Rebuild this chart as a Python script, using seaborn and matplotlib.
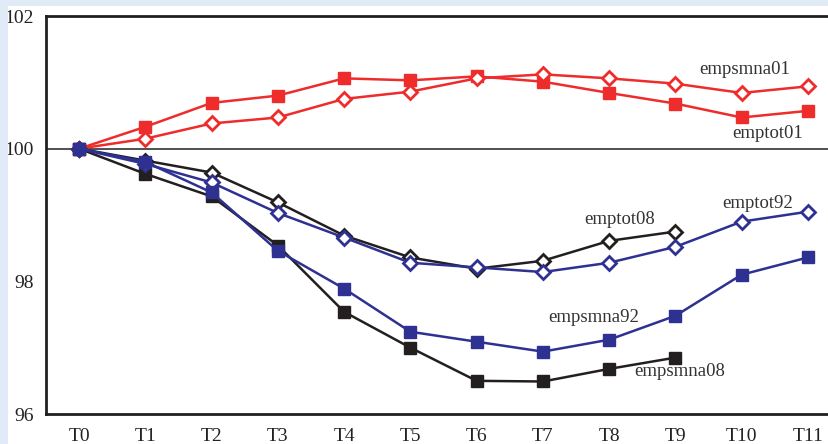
import matplotlib
matplotlib.use("Agg")
import matplotlib.pyplot as plt
import seaborn as sns
import pandas as pd
from matplotlib.patches import Rectangle

periods = ["T0", "T1", "T2", "T3", "T4", "T5", "T6", "T7", "T8", "T9", "T10", "T11"]

emptot01 = [100.0, 100.33, 100.69, 100.80, 101.06, 101.03, 101.09, 101.01, 100.84, 100.68, 100.47, 100.57]
empsmna01 = [100.0, 100.15, 100.38, 100.47, 100.75, 100.86, 101.06, 101.12, 101.06, 100.98, 100.84, 100.94]
emptot08 = [100.0, 99.82, 99.64, 99.19, 98.69, 98.36, 98.19, 98.31, 98.61, 98.75]
empsmna08 = [100.0, 99.62, 99.28, 98.54, 97.54, 97.00, 96.50, 96.49, 96.68, 96.85]
emptot92 = [100.0, 99.77, 99.49, 99.03, 98.66, 98.28, 98.21, 98.14, 98.28, 98.52, 98.90, 99.05]
empsmna92 = [100.0, 99.80, 99.34, 98.46, 97.89, 97.24, 97.09, 96.94, 97.12, 97.48, 98.10, 98.36]

RED = "#ee2c2c"
BLUE = "#2e3192"
BLACK = "#231f20"

series = [
    ("emptot01", emptot01, RED, "s", True),
    ("empsmna01", empsmna01, RED, "D", False),
    ("emptot08", emptot08, BLACK, "D", False),
    ("empsmna08", empsmna08, BLACK, "s", True),
    ("emptot92", emptot92, BLUE, "D", False),
    ("empsmna92", empsmna92, BLUE, "s", True),
]

sns.set_style("white")
plt.rcParams["font.family"] = ["Liberation Serif", "DejaVu Serif"]

fig = plt.figure(figsize=(8.29, 4.44), dpi=100)
fig.patch.set_facecolor("white")
# light blue frame strips (top and left)
fig.patches.append(Rectangle((0, 1 - 6 / 444), 1, 6 / 444, transform=fig.transFigure,
                             facecolor="#e1ebf7", edgecolor="none", zorder=0))
fig.patches.append(Rectangle((0, 0), 8 / 829, 1, transform=fig.transFigure,
                             facecolor="#e1ebf7", edgecolor="none", zorder=0))

ax = fig.add_axes([46 / 829, 30 / 444, (841 - 46) / 829, (414 - 16) / 444])
ax.set_facecolor("white")

ax.axhline(100, color=BLACK, lw=1.1, zorder=1)

for name, vals, color, marker, filled in series:
    df = pd.DataFrame({"x": list(range(len(vals))), "y": vals})
    sns.lineplot(data=df, x="x", y="y", ax=ax, color=color, lw=1.8,
                 marker=marker, markersize=8 if marker == "s" else 7.5,
                 markerfacecolor=color if filled else "white",
                 markeredgecolor=color, markeredgewidth=1.0 if filled else 2.0,
                 zorder=3)

labels = [
    ("empsmna01", 745, 70),
    ("emptot01", 768, 134),
    ("emptot08", 620, 220),
    ("emptot92", 758, 204),
    ("empsmna92", 594, 318),
    ("empsmna08", 680, 372),
]
for txt, px, py in labels:
    # convert pixel position of reference to data coordinates
    xd = -0.5 + (px - 46) / 66.25
    yd = 100 - (py - 149) / 66.3
    ax.text(xd, yd, txt, ha="center", va="center", fontsize=13.5, color="#333333", zorder=4)

ax.set_xlim(-0.5, 11.5)
ax.set_ylim(96, 102)
ax.set_xticks(range(len(periods)))
ax.set_xticklabels(periods, fontsize=14, color="#222222")
ax.set_xticks([i + 0.5 for i in range(len(periods) - 1)], minor=True)
ax.tick_params(axis="x", which="major", length=0, pad=10)
ax.tick_params(axis="x", which="minor", direction="in", length=6, color="#999999", width=1)
ax.set_yticks([96, 98, 100, 102])
ax.set_yticklabels(["96", "98", "100", "102"], fontsize=14, color="#222222")
ax.tick_params(axis="y", length=0, pad=9)
ax.set_xlabel("")
ax.set_ylabel("")

for side in ["left", "bottom", "top"]:
    ax.spines[side].set_visible(True)
    ax.spines[side].set_color(BLACK)
    ax.spines[side].set_linewidth(2)
ax.spines["right"].set_visible(False)

fig.savefig("out.png", dpi=100)
